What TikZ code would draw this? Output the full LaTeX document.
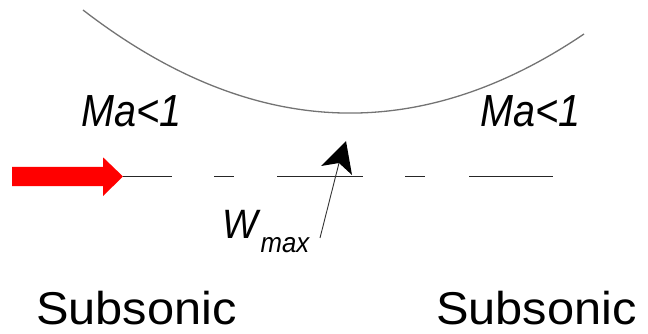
\documentclass[tikz,border=0pt]{standalone}
\usepackage{fontspec}
\setmainfont{Liberation Sans}
\begin{document}
\begin{tikzpicture}[x=1pt,y=-1pt,
  lbl/.style={inner sep=0pt, anchor=base west},
  curveline/.style={draw=black!55, line width=1.3pt},
  axisline/.style={draw=black!85, line width=1.6pt,
    dash pattern=on 49pt off 42pt on 20pt off 43pt on 86pt off 42pt on 20pt off 44pt on 84pt off 60pt},
  pointer/.style={draw=black!80, line width=0.9pt},
  flowarrow/.style={fill=red}]
\useasboundingbox (0,0) rectangle (648,334);
% wall curve
\coordinate (cL) at (83,10);
\coordinate (cR) at (584,34);
\draw[curveline] (cL) .. controls (250,138.9) and (417,146.9) .. (cR);
% axis line and inflow arrow
\coordinate (ltip) at (123,176.5);
\coordinate (lend) at (553,176.5);
\fill[flowarrow] (12,167) -- (103,167) -- (103,157.3) -- (ltip) -- (103,196) -- (103,186) -- (12,186) -- cycle;
\draw[axisline] (ltip) -- (lend);
% W_max pointer
\coordinate (wtail) at (320,238);
\coordinate (wtip) at (346,141);
\coordinate (wnotch) at (339,163);
\draw[pointer] (wtail) -- (wnotch);
\fill[black] (wtip) -- (321,166) -- (wnotch) -- (352,175) -- cycle;
% labels
\node[lbl, xscale=0.88] (ma1) at (81,127) {\fontsize{45}{45}\selectfont\itshape Ma<1};
\node[lbl, xscale=0.88] (ma2) at (480,127) {\fontsize{45}{45}\selectfont\itshape Ma<1};
\node[lbl, xscale=0.92] (wmax) at (222,238) {\fontsize{41}{41}\selectfont\itshape W\kern3pt\raisebox{-14pt}{\fontsize{28}{28}\selectfont max}};
\node[lbl, xscale=1.06] (sub1) at (36,324) {\fontsize{46}{46}\selectfont Subsonic};
\node[lbl, xscale=1.06] (sub2) at (436,324) {\fontsize{46}{46}\selectfont Subsonic};
\end{tikzpicture}
\end{document}
